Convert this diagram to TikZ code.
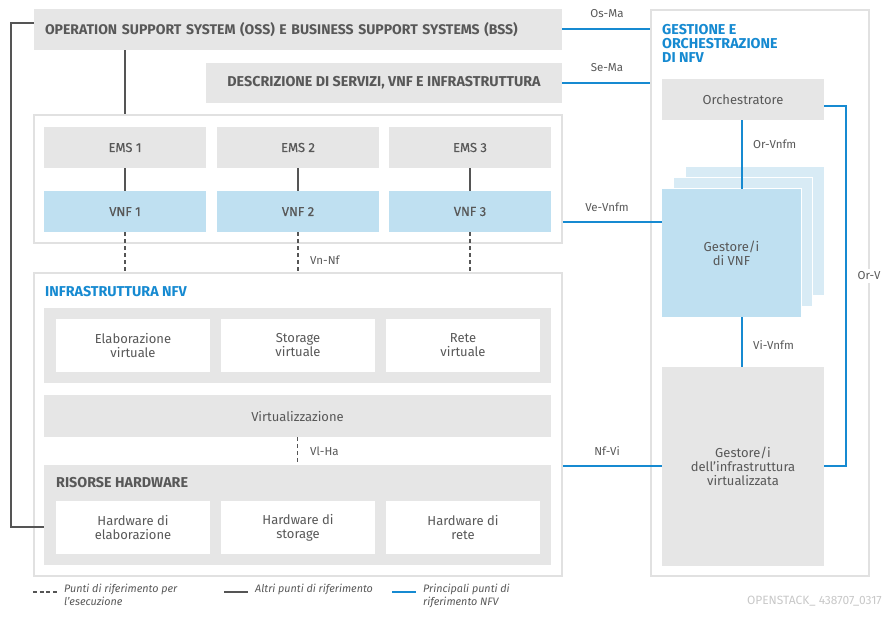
\documentclass[tikz,border=0pt]{standalone}
\usepackage{fontspec}
\setmainfont{Fira Sans}
\usetikzlibrary{positioning}
\definecolor{boxgray}{RGB}{230,230,230}
\definecolor{txtgray}{RGB}{88,88,88}
\definecolor{vnfblue}{RGB}{191,224,241}
\definecolor{paleblue}{RGB}{216,235,245}
\definecolor{nfvblue}{RGB}{22,138,209}
\definecolor{frame}{RGB}{225,225,225}
\definecolor{dline}{RGB}{85,85,85}
\definecolor{foot}{RGB}{200,200,200}
\tikzset{
  every node/.style={inner sep=0pt, text=txtgray, font=\fontsize{13}{14}\selectfont},
  gbox/.style={fill=boxgray, draw=none, align=center},
  bbox/.style={fill=vnfblue, draw=none, align=center},
  wbox/.style={fill=white, draw=none, align=center},
  cont/.style={fill=white, draw=frame, line width=1.5pt},
  caps/.style={font=\fontsize{14.3}{15}\selectfont\bfseries},
  med/.style={font=\fontsize{13}{14}\selectfont\addfontfeatures{FakeBold=0.3}},
  ttl/.style={font=\fontsize{14.3}{14}\selectfont\bfseries, text=nfvblue, align=left},
  lbl/.style={font=\fontsize{11.5}{13}\selectfont},
  solidln/.style={draw=dline, line width=1.3pt},
  dashln/.style={draw=dline, line width=1.3pt, dash pattern=on 4pt off 3pt},
  blueln/.style={draw=nfvblue, line width=1.6pt},
  leg/.style={font=\fontsize{10.8}{13}\selectfont\itshape, align=left, anchor=north west},
}
\begin{document}
\begin{tikzpicture}[x=1pt,y=-1pt]
\useasboundingbox (0,0) rectangle (882,619);
% containers
\node[cont, minimum width=528, minimum height=128] (emsc) at (298,179) {};
\node[cont, minimum width=528, minimum height=303] (infra) at (298,424.5) {};
\node[cont, minimum width=218, minimum height=566] (mano) at (760,293) {};
% top boxes
\node[gbox, caps, font=\fontsize{14}{15}\selectfont\bfseries, text width=506, align=left, inner xsep=11pt, minimum height=41] (oss) at (298,29.5) {OPERATION SUPPORT SYSTEM (OSS) E BUSINESS SUPPORT SYSTEMS (BSS)};
\node[gbox, caps, minimum width=356, minimum height=40] (desc) at (384,83) {DESCRIZIONE DI SERVIZI, VNF E INFRASTRUTTURA};
% EMS and VNF
\foreach \i/\x in {1/125,2/298,3/470}{
  \node[gbox, med, minimum width=162, minimum height=41] (ems\i) at (\x,147.5) {EMS \i};
  \node[bbox, med, minimum width=162, minimum height=41] (vnf\i) at (\x,211.5) {VNF \i};
  \draw[solidln] (ems\i) -- (vnf\i);
  \draw[dashln] (vnf\i.south) -- (vnf\i.south |- infra.north);
}
\node[lbl, anchor=west] (vnnf) at (310,260) {Vn-Nf};
% infrastructure
\node[ttl, anchor=west] (infratitle) at (45,292) {INFRASTRUTTURA NFV};
\node[gbox, minimum width=507, minimum height=75] (vband) at (297.5,345.5) {};
\node[wbox, minimum width=154, minimum height=53] (ve) at (133,345.5) {Elaborazione\\virtuale};
\node[wbox, minimum width=154, minimum height=53] (vs) at (298,345.5) {Storage\\virtuale};
\node[wbox, minimum width=154, minimum height=53] (vr) at (463,345.5) {Rete\\virtuale};
\node[gbox, minimum width=507, minimum height=42] (virt) at (297.5,416) {Virtualizzazione};
\node[gbox, minimum width=507, minimum height=100] (hwband) at (297.5,515) {};
\node[caps, anchor=west] (hwtitle) at (56,483) {RISORSE HARDWARE};
\node[wbox, minimum width=154, minimum height=53] (he) at (133,527.5) {Hardware di\\elaborazione};
\node[wbox, minimum width=154, minimum height=53] (hs) at (298,527.5) {Hardware di\\storage};
\node[wbox, minimum width=154, minimum height=53] (hr) at (463,527.5) {Hardware di\\rete};
\draw[dashln] (virt.south) -- (virt.south |- hwband.north);
\node[lbl, anchor=west] (vlha) at (310,451) {Vl-Ha};
% OSS links
\draw[solidln] (oss.south -| ems1) -- (ems1.north |- emsc.north);
\coordinate (lt) at (11,23);
\coordinate (lb) at (11,527);
\draw[solidln] (oss.west |- lt) -- (lt) -- (lb) -- (hwband.west |- lb);
% MANO
\node[ttl, anchor=north west] (manotitle) at (662,24) {GESTIONE E\\ORCHESTRAZIONE\\DI NFV};
\node[gbox, minimum width=162, minimum height=41] (orch) at (743,99.5) {Orchestratore};
\node[fill=paleblue, minimum width=138, minimum height=128] (vnfm3) at (755,231) {};
\node[fill=white, minimum width=140, minimum height=130] (vnfm2w) at (743,242) {};
\node[fill=paleblue, minimum width=138, minimum height=128] (vnfm2) at (743,242) {};
\node[fill=white, minimum width=141, minimum height=130] (vnfmw) at (731.5,253) {};
\node[bbox, minimum width=139, minimum height=128] (vnfm) at (731.5,253) {Gestore/i\\di VNF};
\node[gbox, minimum width=162, minimum height=199] (vim) at (743,466.5) {Gestore/i\\dell'infrastruttura\\virtualizzata};
\coordinate (ox) at (742,0);
\draw[blueln] (orch.south -| ox) -- (vnfm.north -| ox);
\node[lbl, anchor=west] (orvnfm) at (753,144) {Or-Vnfm};
\draw[blueln] (vnfm.south -| ox) -- (vim.north -| ox);
\node[lbl, anchor=west] (vivnfm) at (753,345) {Vi-Vnfm};
\coordinate (orvt) at (846,106);
\coordinate (orvb) at (846,466);
\draw[blueln] (orch.east |- orvt) -- (orvt) -- (orvb) -- (vim.east |- orvb);
\node[lbl, fill=white, inner xsep=1pt, inner ysep=3pt] (orv) at (869,276) {Or-V};
% reference point links
\coordinate (osma) at (0,29);
\coordinate (sema) at (0,83);
\coordinate (vevnfm) at (0,222);
\coordinate (nfvi) at (0,466);
\draw[blueln] (oss.east |- osma) -- (mano.west |- osma);
\node[lbl] (osmal) at (607,14) {Os-Ma};
\draw[blueln] (desc.east |- sema) -- (mano.west |- sema);
\node[lbl] (semal) at (607,68) {Se-Ma};
\draw[blueln] (emsc.east |- vevnfm) -- (vnfm.west |- vevnfm);
\node[lbl] (vevnfml) at (607,207) {Ve-Vnfm};
\draw[blueln] (infra.east |- nfvi) -- (vim.west |- nfvi);
\node[lbl] (nfvil) at (607,451) {Nf-Vi};
% legend
\coordinate (l1a) at (33,592); \coordinate (l1b) at (57,592);
\coordinate (l2a) at (224,592); \coordinate (l2b) at (248,592);
\coordinate (l3a) at (392,592); \coordinate (l3b) at (416,592);
\draw[dashln, line width=1.1pt, dash pattern=on 4pt off 2.7pt] (l1a) -- (l1b);
\draw[solidln] (l2a) -- (l2b);
\draw[blueln] (l3a) -- (l3b);
\node[leg] (leg1) at (64,584) {Punti di riferimento per\\l'esecuzione};
\node[leg] (leg2) at (255,584) {Altri punti di riferimento};
\node[leg] (leg3) at (423,584) {Principali punti di\\riferimento NFV};
\node[font=\fontsize{12}{13}\selectfont, text=foot, anchor=east] (footer) at (882,601) {OPENSTACK\_ 438707\_0317};
\end{tikzpicture}
\end{document}
